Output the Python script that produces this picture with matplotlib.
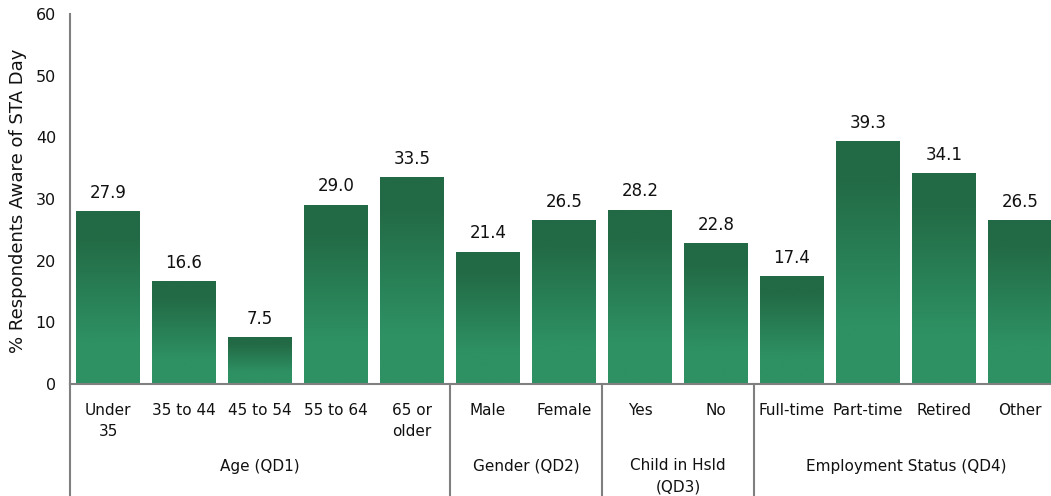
import numpy as np
import matplotlib
matplotlib.use("Agg")
import matplotlib.pyplot as plt
from matplotlib.colors import LinearSegmentedColormap

categories = ["Under\n35", "35 to 44", "45 to 54", "55 to 64", "65 or\nolder",
              "Male", "Female", "Yes", "No",
              "Full-time", "Part-time", "Retired", "Other"]
values = [27.9, 16.6, 7.5, 29.0, 33.5, 21.4, 26.5, 28.2, 22.8, 17.4, 39.3, 34.1, 26.5]
groups = ["Age (QD1)", "Gender (QD2)", "Child in Hsld\n(QD3)", "Employment Status (QD4)"]
group_sizes = [5, 2, 2, 4]

plt.rcParams["font.family"] = "DejaVu Sans"

fig = plt.figure(figsize=(10.51, 4.96), dpi=100)
W, H = 1051, 496
ax = fig.add_axes([70 / W, (H - 384) / H, (1058 - 70) / W, (384 - 14) / H])

# vertical gradient: light green at bottom, dark green at top
cmap = LinearSegmentedColormap.from_list(
    "grn", [(0.0, "#2e9163"), (0.25, "#2e9163"), (0.85, "#226a45"), (1.0, "#226a45")])
grad = np.linspace(0, 1, 256).reshape(-1, 1)

x = np.arange(len(values))
bw = 0.83
for xi, v in zip(x, values):
    ax.imshow(grad, extent=[xi - bw / 2, xi + bw / 2, 0, v], origin="lower",
              cmap=cmap, aspect="auto", interpolation="bicubic", zorder=2)
    ax.text(xi, v + 1.6, f"{v:.1f}", ha="center", va="bottom", fontsize=12, color="#111111")

ax.set_xlim(-0.5, len(values) - 0.5)
ax.set_ylim(0, 60)
ax.set_yticks(range(0, 61, 10))
ax.tick_params(axis="y", length=0, labelsize=11.5, pad=10, colors="#111111")
ax.set_xticks(x)
ax.set_xticklabels(categories, fontsize=11, color="#111111", linespacing=1.5)
ax.tick_params(axis="x", length=0, pad=14)
fig.text(18 / W, 1 - 201 / H, "% Respondents Aware of STA Day", rotation=90,
         ha="center", va="center", fontsize=13, color="#111111")

for s in ["top", "right"]:
    ax.spines[s].set_visible(False)
for s in ["left", "bottom"]:
    ax.spines[s].set_color("#808080")
    ax.spines[s].set_linewidth(1.5)

# group separators and group labels under the axis
tr = ax.get_xaxis_transform()
ybot = -(H - 384) / 370 - 0.01
ax.plot([-0.5, -0.5], [0, ybot], transform=tr, clip_on=False, color="#808080", lw=1.5)
start = 0
for g, n in zip(groups, group_sizes):
    end = start + n
    ax.plot([end - 0.5, end - 0.5], [0, ybot], transform=tr, clip_on=False,
            color="#808080", lw=1.5)
    if "\n" in g:
        ax.text((start + end - 1) / 2, -(458 - 384) / 370, g, transform=tr, ha="center",
                va="top", fontsize=11, color="#111111", linespacing=1.5)
    else:
        ax.text((start + end - 1) / 2, -(466 - 384) / 370, g, transform=tr, ha="center",
                va="center", fontsize=11, color="#111111")
    start = end

fig.savefig("out.png", dpi=100)
